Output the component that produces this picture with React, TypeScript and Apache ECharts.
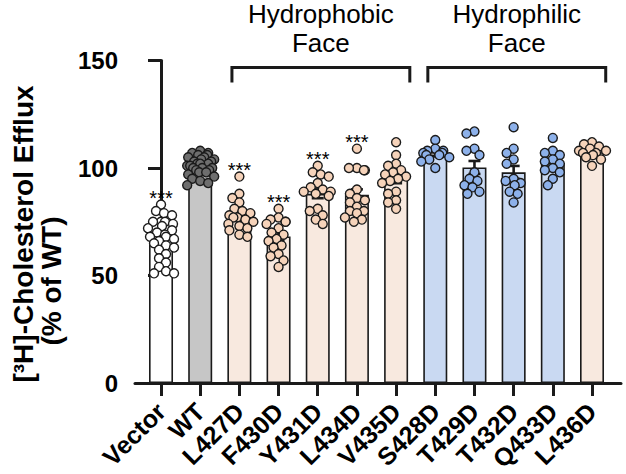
import React, { useEffect, useRef } from "react";
import * as echarts from "echarts";

// ---------- data ----------
const categories = [
  "Vector", "WT", "L427D", "F430D", "Y431D", "L434D",
  "V435D", "S428D", "T429D", "T432D", "Q433D", "L436D",
];

const vectorValues = [83, 80, 79, 78, 75, 75, 75, 74, 73, 72, 71, 70, 69, 68, 68, 67, 66, 65, 64, 63, 62, 60, 58, 56, 54, 52, 51, 51];
const wtValues = [108, 107, 107, 106, 106, 105, 105, 104, 104, 103, 103, 102, 102, 102, 101, 101, 100, 100, 100, 99, 99, 98, 98, 97, 96, 95, 94, 93, 92];
const l427dValues = [96, 88, 86, 84, 81, 80, 79, 78, 77, 77, 76, 75, 74, 73, 72, 71, 69, 68];
const f430dValues = [81, 77, 76, 75, 75, 74, 72, 70, 69, 67, 66, 64, 63, 60, 59, 57, 54];
const y431dValues = [101, 98, 97, 96, 93, 91, 90, 89, 89, 88, 87, 81, 80, 78, 76, 74];
const l434dValues = [109, 100, 100, 99, 99, 90, 88, 86, 85, 84, 82, 80, 80, 79, 77, 76, 75];
const v435dValues = [112, 106, 102, 101, 99, 98, 97, 96, 95, 94, 93, 89, 88, 85, 84, 81];
const s428dValues = [113, 109, 108, 108, 107, 107, 106, 106, 105, 104, 103, 100];
const t429dValues = [117, 116, 109, 108, 106, 98, 95, 94, 92, 91, 89, 88];
const t432dValues = [119, 109, 107, 104, 102, 95, 94, 93, 92, 89, 88, 84];
const q433dValues = [114, 108, 107, 106, 104, 103, 102, 100, 99, 98, 95, 92];
const l436dValues = [112, 111, 110, 109, 108, 108, 107, 107, 106, 105, 104, 101];

const seriesValues = [
  vectorValues, wtValues, l427dValues, f430dValues, y431dValues, l434dValues,
  v435dValues, s428dValues, t429dValues, t432dValues, q433dValues, l436dValues,
];

const significance = ["***", "", "***", "***", "***", "***", "", "", "", "", "", ""];

const yTicks = [0, 50, 100, 150];

const groupLabels = ["Hydrophobic\nFace", "Hydrophilic\nFace"];
const groupFirst = ["L427D", "S428D"];
const groupLast = ["V435D", "L436D"];

// ---------- styles ----------
const colorGroup = ["vector", "wt", "phob", "phob", "phob", "phob", "phob", "phil", "phil", "phil", "phil", "phob"];
const barFill: Record<string, string> = { vector: "#ffffff", wt: "#c6c6c6", phob: "#f8e9df", phil: "#c9d9f2" };
const dotFill: Record<string, string> = { vector: "#ffffff", wt: "#6e6e6e", phob: "#f6d3ba", phil: "#8db1ea" };
const FONT = "'Liberation Sans', Arial, Helvetica, sans-serif";
const INK = "#1a1a1a";

// ---------- helpers ----------
const mean = (a: number[]) => a.reduce((s, v) => s + v, 0) / a.length;
const sem = (a: number[]) => {
  const m = mean(a);
  const sd = Math.sqrt(a.reduce((s, v) => s + (v - m) * (v - m), 0) / (a.length - 1));
  return sd / Math.sqrt(a.length);
};

// beeswarm layout (pixel approximations of the axis scales)
function swarm(vals: number[]): number[] {
  const PX_X = 39.18, PX_Y = 2.15, D = 8;
  const order = vals.map((_, i) => i).sort((a, b) => vals[b] - vals[a]);
  const placed: { x: number; y: number }[] = [];
  const offs = new Array(vals.length).fill(0);
  for (const i of order) {
    const y = vals[i] * PX_Y;
    let best = 0;
    for (let k = 0; k < 200; k++) {
      const cand = (k % 2 === 0 ? 1 : -1) * Math.ceil(k / 2) * 0.5;
      if (Math.abs(cand) > 14) {
        best = (i % 2 === 0 ? 1 : -1) * ((i * 5) % 13);
        break;
      }
      if (placed.every((p) => (p.x - cand) ** 2 + (p.y - y) ** 2 >= D * D)) {
        best = cand;
        break;
      }
    }
    placed.push({ x: best, y });
    offs[i] = best / PX_X;
  }
  return offs;
}

export default function App() {
  const ref = useRef<HTMLDivElement>(null);

  useEffect(() => {
    if (!ref.current) return;
    const chart = echarts.init(ref.current, undefined, { renderer: "svg" });

    const means = seriesValues.map(mean);
    const sems = seriesValues.map(sem);
    const idx = categories.map((_, i) => i);

    const barData = means.map((m, i) => ({
      value: [i, m],
      itemStyle: { color: barFill[colorGroup[i]], borderColor: INK, borderWidth: 1.6 },
    }));

    const dotData: any[] = [];
    seriesValues.forEach((vals, i) => {
      const offs = swarm(vals);
      vals.forEach((v, j) => {
        dotData.push({ value: [i + offs[j], v], itemStyle: { color: dotFill[colorGroup[i]] } });
      });
    });

    const errData = means.map((m, i) => [i, m, sems[i]]);
    const starData = significance
      .map((s, i) => (s ? [i, Math.max(...seriesValues[i]), i] : null))
      .filter((d) => d) as number[][];

    const bracketData = groupLabels.map((_, g) => [
      categories.indexOf(groupFirst[g]),
      categories.indexOf(groupLast[g]),
      g,
    ]);

    chart.setOption({
      animation: false,
      grid: {
        left: 135, right: 5, top: 60.5, bottom: 91,
        containLabel: false, outerBoundsMode: "none",
      },
      xAxis: {
        type: "value",
        min: -0.664,
        max: 11.74,
        axisLine: { show: true, onZero: false, lineStyle: { color: INK, width: 3 } },
        axisTick: { show: true, customValues: idx, length: 13, lineStyle: { color: INK, width: 3 } },
        axisLabel: {
          customValues: idx,
          formatter: (v: number) => categories[Math.round(v)] ?? "",
          rotate: 45,
          margin: 24,
          fontSize: 25,
          fontWeight: "bold",
          color: "#000",
          fontFamily: FONT,
        },
        splitLine: { show: false },
      },
      yAxis: {
        type: "value",
        min: 0,
        max: 150,
        interval: 50,
        axisLine: { show: true, lineStyle: { color: INK, width: 3 } },
        axisTick: { show: true, length: 13, lineStyle: { color: INK, width: 3 } },
        axisLabel: {
          customValues: yTicks,
          margin: 17,
          fontSize: 24,
          fontWeight: "bold",
          color: "#000",
          fontFamily: FONT,
        },
        splitLine: { show: false },
      },
      graphic: [
        {
          type: "text",
          x: 23,
          y: 234,
          rotation: Math.PI / 2,
          style: {
            text: "[³H]-Cholesterol Efflux",
            font: `bold 28px ${FONT}`,
            fill: "#000",
            textAlign: "center",
            textVerticalAlign: "middle",
          },
        },
        {
          type: "text",
          x: 51,
          y: 281,
          rotation: Math.PI / 2,
          style: {
            text: "(% of WT)",
            font: `bold 28px ${FONT}`,
            fill: "#000",
            textAlign: "center",
            textVerticalAlign: "middle",
          },
        },
      ],
      series: [
        {
          type: "bar",
          data: barData,
          barWidth: 24,
          z: 1,
        },
        {
          type: "custom",
          z: 2,
          data: errData,
          renderItem: (_p: any, api: any) => {
            const x = api.value(0), m = api.value(1), s = api.value(2);
            const t = api.coord([x, m + s]);
            const b = api.coord([x, m - s]);
            const hw = 6;
            const st = { stroke: INK, lineWidth: 2.6 };
            return {
              type: "group",
              children: [
                { type: "line", shape: { x1: t[0], y1: t[1], x2: b[0], y2: b[1] }, style: st },
                { type: "line", shape: { x1: t[0] - hw, y1: t[1], x2: t[0] + hw, y2: t[1] }, style: st },
                { type: "line", shape: { x1: b[0] - hw, y1: b[1], x2: b[0] + hw, y2: b[1] }, style: st },
              ],
            };
          },
        },
        {
          type: "scatter",
          z: 3,
          data: dotData,
          symbol: "circle",
          symbolSize: 9,
          itemStyle: { borderColor: INK, borderWidth: 1.4, opacity: 1 },
        },
        {
          type: "custom",
          z: 4,
          data: starData,
          renderItem: (_p: any, api: any) => {
            const i = api.value(0), top = api.value(1);
            const p = api.coord([i, top]);
            return {
              type: "text",
              x: p[0],
              y: p[1] + 3,
              style: {
                text: significance[i],
                font: `20px ${FONT}`,
                fill: "#000",
                textAlign: "center",
                textVerticalAlign: "bottom",
              },
            };
          },
        },
        {
          type: "custom",
          z: 5,
          clip: false,
          data: bracketData,
          renderItem: (_p: any, api: any) => {
            const a = api.value(0), b = api.value(1), g = api.value(2);
            const l = api.coord([a - 0.19, 146.7]);
            const r = api.coord([b + 0.35, 146.7]);
            const drop = 15;
            return {
              type: "group",
              children: [
                {
                  type: "polyline",
                  shape: { points: [[l[0], l[1] + drop], [l[0], l[1]], [r[0], r[1]], [r[0], r[1] + drop]] },
                  style: { stroke: INK, lineWidth: 3, fill: "none" },
                },
                {
                  type: "text",
                  x: (l[0] + r[0]) / 2,
                  y: l[1] - 39,
                  style: {
                    text: groupLabels[g],
                    font: `26px ${FONT}`,
                    lineHeight: 29,
                    fill: "#000",
                    textAlign: "center",
                    textVerticalAlign: "middle",
                  },
                },
              ],
            };
          },
        },
      ],
    });

    return () => chart.dispose();
  }, []);

  return (
    <div
      ref={ref}
      style={{ position: "fixed", left: 0, top: 0, width: 626, height: 474, background: "#fff" }}
    />
  );
}
